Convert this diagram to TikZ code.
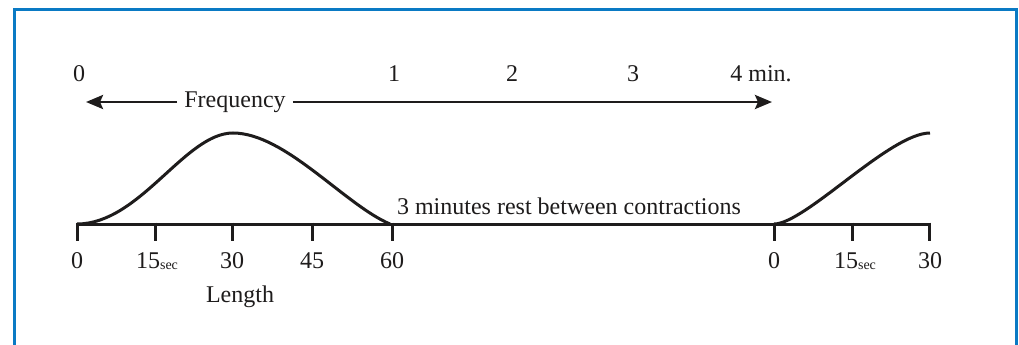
\documentclass[tikz,border=0pt]{standalone}
\usepackage{fontspec}
\setmainfont{Liberation Serif}
\usetikzlibrary{arrows.meta}
\definecolor{frameblue}{RGB}{10,122,196}
\definecolor{ink}{RGB}{30,28,28}
\begin{document}
\begin{tikzpicture}[x=1pt,y=-1pt,
  lbl/.style={font=\fontsize{24}{28}\selectfont, text=ink, inner sep=0pt},
  axisline/.style={draw=ink, line width=3pt},
  tick/.style={draw=ink, line width=3pt},
  curve/.style={draw=ink, line width=3pt},
  freqarrow/.style={draw=ink, line width=2.8pt, -{Stealth[length=17pt,width=14pt,inset=3pt]}}]
\useasboundingbox (0,0) rectangle (1019,345);
\clip (0,0) rectangle (1019,345);
\fill[white] (0,0) rectangle (1019,345);
% frame
\draw[frameblue, line width=3pt] (14,350) -- (14,10) -- (1016,10) -- (1016,350);

% axis
\coordinate (a0) at (77,224);
\coordinate (a60) at (390,224);
\coordinate (b0) at (774,224);
\coordinate (b30) at (930,224);
\draw[axisline] (a0) -- (b30);
\foreach \x/\n in {77/t0,155/t15,232/t30,312/t45,392/t60,774/u0,852/u15,929/u30}{
  \coordinate (\n) at (\x,224);
  \draw[tick] (\x,222.5) -- (\x,241);
}
% tick labels
\node[lbl] (l0) at (77,261) {0};
\node[lbl] (l15) at (157,261) {15\raisebox{-0.5pt}{\fontsize{14}{16}\selectfont sec}};
\node[lbl] (l30) at (232,261) {30};
\node[lbl] (l45) at (312,261) {45};
\node[lbl] (l60) at (392,261) {60};
\node[lbl] (m0) at (774,261) {0};
\node[lbl] (m15) at (855,261) {15\raisebox{-0.5pt}{\fontsize{14}{16}\selectfont sec}};
\node[lbl] (m30) at (930,261) {30};
\node[lbl] (len) at (240,297) {Length};

% curves
\draw[curve] (a0) .. controls (140,224) and (185,133) .. (233,133)
  .. controls (285,133) and (345,205) .. (a60);
\draw[curve] (b0) .. controls (805,224) and (890,133) .. (930,133);

% rest label
\node[lbl, anchor=base] (rest) at (569,214) {3 minutes rest between contractions};

% frequency
\node[lbl] (f0) at (79,74) {0};
\node[lbl] (f1) at (394,74) {1};
\node[lbl] (f2) at (512,74) {2};
\node[lbl] (f3) at (633,74) {3};
\node[lbl] (f4) at (761,74) {4 min.};
\node[lbl] (freq) at (235,102) {Frequency};
\coordinate (fl) at (86,102);
\coordinate (fr) at (772,102);
\draw[freqarrow] ([xshift=-7pt]freq.west) -- (fl);
\draw[freqarrow] ([xshift=7pt]freq.east) -- (fr);
\end{tikzpicture}
\end{document}
